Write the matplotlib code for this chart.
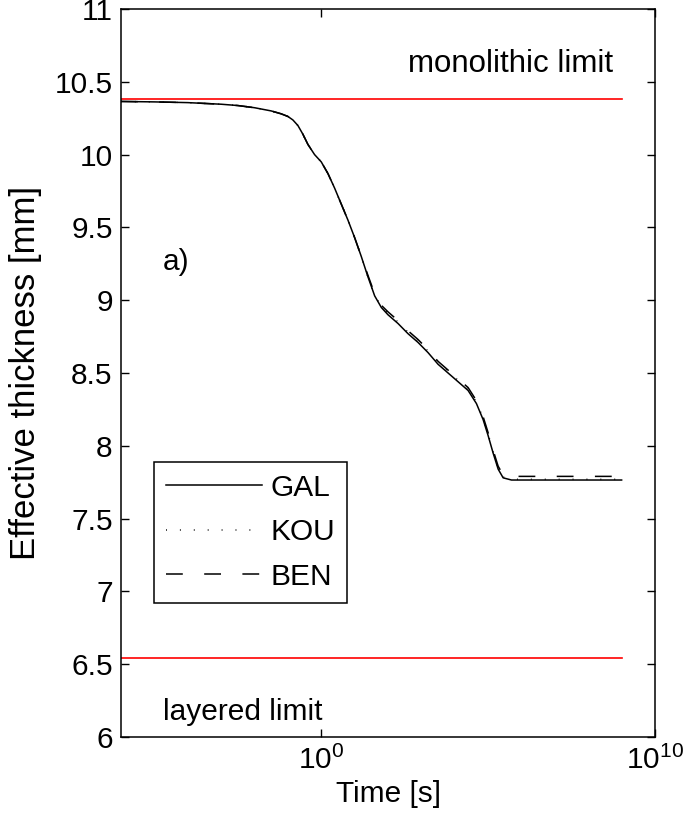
import numpy as np
import matplotlib
matplotlib.use("Agg")
import matplotlib.pyplot as plt
from matplotlib.ticker import FixedLocator, FixedFormatter, NullLocator

plt.rcParams['font.family'] = ['Liberation Sans', 'DejaVu Sans']
plt.rcParams['mathtext.fontset'] = 'custom'
plt.rcParams['mathtext.rm'] = 'Liberation Sans'
plt.rcParams['mathtext.it'] = 'Liberation Sans'

# time as decimal exponent, log10(t [s])
log_t = [-6.0, -5.0, -4.0, -3.0, -2.5, -2.0, -1.5, -1.2, -1.0, -0.85, -0.7, -0.55,
         -0.4, -0.2, 0.0, 0.2, 0.4, 0.6, 0.8, 1.0, 1.2, 1.4, 1.6, 1.8, 2.0, 2.3,
         2.6, 2.9, 3.2, 3.5, 3.8, 4.1, 4.4, 4.65, 4.85, 5.0, 5.15, 5.3, 5.45,
         5.7, 7.0, 9.0]

# effective thickness [mm]
gal = [10.365, 10.362, 10.357, 10.346, 10.337, 10.322, 10.300, 10.280, 10.262,
       10.238, 10.20, 10.14, 10.07, 10.00, 9.95, 9.87, 9.77, 9.66, 9.55, 9.43,
       9.30, 9.16, 9.03, 8.95, 8.90, 8.84, 8.77, 8.71, 8.64, 8.56, 8.50, 8.44,
       8.38, 8.29, 8.18, 8.07, 7.95, 7.84, 7.78, 7.765, 7.765, 7.765]
kou = [10.365, 10.362, 10.357, 10.346, 10.337, 10.322, 10.300, 10.280, 10.262,
       10.238, 10.20, 10.14, 10.07, 10.00, 9.95, 9.87, 9.77, 9.66, 9.55, 9.43,
       9.30, 9.16, 9.035, 8.955, 8.91, 8.85, 8.78, 8.72, 8.65, 8.57, 8.51, 8.45,
       8.39, 8.30, 8.19, 8.08, 7.96, 7.85, 7.785, 7.77, 7.77, 7.77]
ben = [10.365, 10.362, 10.357, 10.346, 10.337, 10.322, 10.300, 10.280, 10.262,
       10.238, 10.20, 10.14, 10.07, 10.00, 9.95, 9.87, 9.77, 9.66, 9.55, 9.43,
       9.30, 9.17, 9.045, 8.965, 8.92, 8.86, 8.79, 8.73, 8.66, 8.58, 8.52, 8.46,
       8.40, 8.31, 8.20, 8.09, 7.97, 7.86, 7.80, 7.79, 7.79, 7.79]

monolithic = 10.38
layered = 6.54
limit_span = [-6.0, 9.0]

x_ticks = [0, 10]
y_ticks = [6, 6.5, 7, 7.5, 8, 8.5, 9, 9.5, 10, 10.5, 11]

FS = 21.5

fig = plt.figure(figsize=(6.84, 8.32), dpi=100)
ax = fig.add_axes([121 / 684, 95 / 832, 534 / 684, 728 / 832])

t = 10.0 ** np.array(log_t)
span = 10.0 ** np.array(limit_span)

ax.plot(span, [monolithic] * 2, color='#ff0000', lw=1.2)
ax.plot(span, [layered] * 2, color='#ff0000', lw=1.2)

ax.plot(t, gal, color='k', lw=1.1, label='GAL')
ax.plot(t, kou, color='k', lw=1.1, ls=(0, (0.6, 8.5)), label='KOU')
ax.plot(t, ben, color='k', lw=1.1, ls=(0, (11, 14)), label='BEN')

ax.set_xscale('log')
ax.set_xlim(1e-6, 1e10)
ax.set_ylim(6, 11)

ax.xaxis.set_major_locator(FixedLocator([10.0 ** e for e in x_ticks]))
ax.xaxis.set_major_formatter(FixedFormatter([r'$10^{%d}$' % e for e in x_ticks]))
ax.xaxis.set_minor_locator(NullLocator())
ax.set_yticks(y_ticks)
ax.set_yticklabels(['%g' % v for v in y_ticks])

ax.tick_params(which='both', direction='in', length=6, width=1,
               top=True, right=True, labelsize=FS, pad=6)
for s in ax.spines.values():
    s.set_linewidth(1.1)

ax.set_xlabel('Time [s]', fontsize=FS, labelpad=4)
ax.set_ylabel('Effective thickness [mm]', fontsize=25, labelpad=9)

ax.text(10 ** 8.75, 10.62, 'monolithic limit', fontsize=22.5, ha='right', va='center')
ax.text(10 ** -4.75, 6.17, 'layered limit', fontsize=FS, ha='left', va='center')
ax.text(10 ** -4.75, 9.26, 'a)', fontsize=FS, ha='left', va='center')

leg = ax.legend(loc='upper left', bbox_to_anchor=(33 / 534, 275 / 728),
                fontsize=FS, handlelength=3.2, handletextpad=0.3,
                labelspacing=0.55, borderpad=0.4, borderaxespad=0,
                fancybox=False, framealpha=1, edgecolor='k')
leg.get_frame().set_linewidth(1.1)

fig.savefig('out.png', dpi=100)
